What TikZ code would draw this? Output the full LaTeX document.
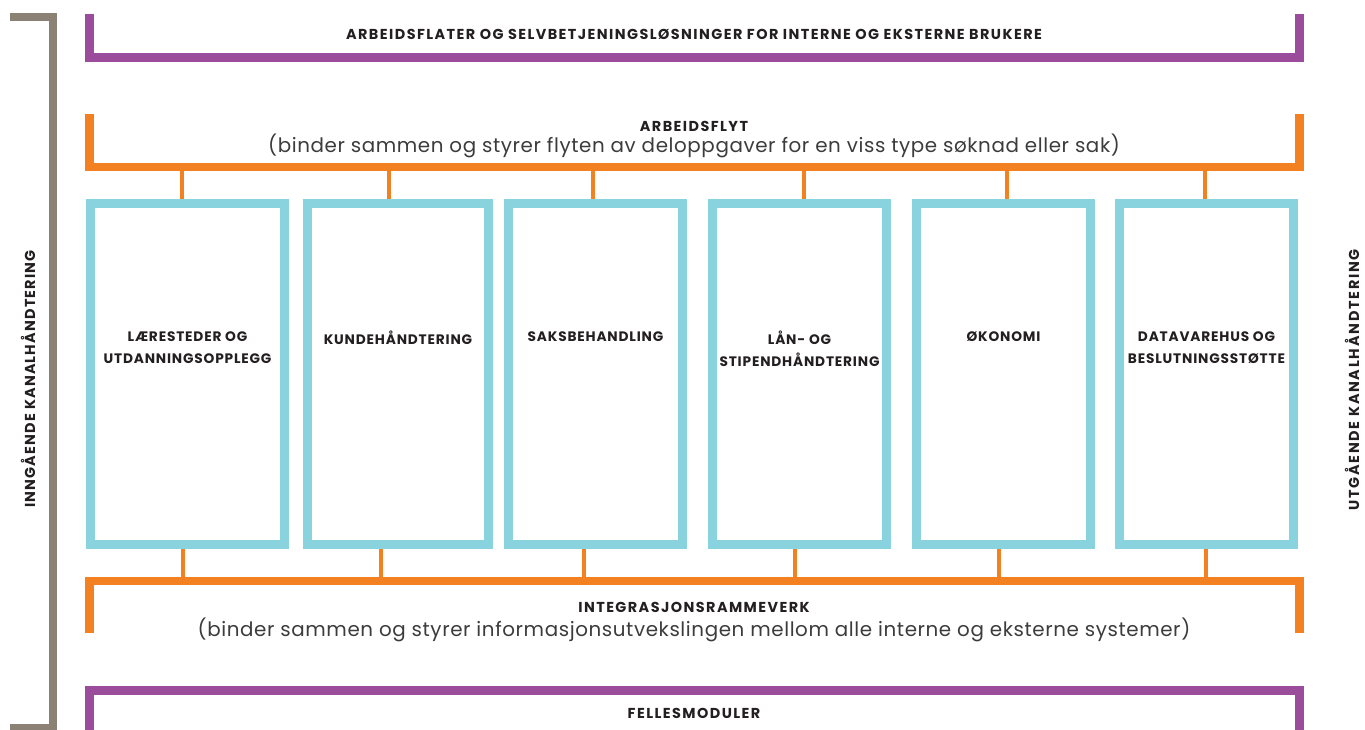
\documentclass[tikz,border=0pt]{standalone}
\usepackage{fontspec}
\setmainfont{Poppins}
\definecolor{purp}{RGB}{155,77,155}
\definecolor{orng}{RGB}{243,129,33}
\definecolor{cyanb}{RGB}{136,211,222}
\definecolor{grayb}{RGB}{140,129,117}
\definecolor{txt}{RGB}{35,31,32}
\definecolor{subt}{RGB}{60,60,60}
\tikzset{
  bracketP/.style={draw=purp,line width=6.75pt,line join=miter},
  bracketO/.style={draw=orng,line width=6.4pt,line join=miter},
  bracketG/.style={draw=grayb,line width=6pt,line join=miter},
  conn/.style={draw=orng,line width=2.3pt},
  cbox/.style={draw=cyanb,line width=6.4pt,inner sep=0pt,minimum height={341.5*0.75pt}},
  caps/.style={font=\bfseries\fontsize{10.8pt}{12pt}\selectfont\addfontfeatures{LetterSpace=10},text=txt,inner sep=0pt},
  lbl/.style={font=\bfseries\fontsize{10.3pt}{16.5pt}\selectfont\addfontfeatures{LetterSpace=6},text=txt,align=center,inner sep=0pt},
  subtitle/.style={font=\fontsize{14.9pt}{16pt}\selectfont\addfontfeatures{LetterSpace=3},text=subt,inner sep=0pt},
  side/.style={font=\bfseries\fontsize{10.8pt}{12pt}\selectfont\addfontfeatures{LetterSpace=8},text=txt,inner sep=0pt,rotate=90},
}
\begin{document}
\begin{tikzpicture}[x=0.75pt,y=-0.75pt]
\useasboundingbox (0,0) rectangle (1365,729);
% gray bracket
\draw[bracketG] (10,17) -- (53,17) -- (53,728) -- (10,728);
% purple top bracket
\draw[bracketP] (89.5,14) -- (89.5,57.5) -- (1299.5,57.5) -- (1299.5,14);
\node[caps] (t0) at (694,34) {ARBEIDSFLATER OG SELVBETJENINGSLØSNINGER FOR INTERNE OG EKSTERNE BRUKERE};
% orange top bracket
\draw[bracketO] (89.5,114) -- (89.5,167) -- (1299.5,167) -- (1299.5,114);
\node[caps] (t1) at (694,126) {ARBEIDSFLYT};
\node[subtitle] (s1) at (694,146) {(binder sammen og styrer flyten av deloppgaver for en viss type søknad eller sak)};
% orange bottom bracket
\draw[bracketO] (89.5,633) -- (89.5,581) -- (1299.5,581) -- (1299.5,633);
\node[caps] (t2) at (694,607) {INTEGRASJONSRAMMEVERK};
\node[subtitle] (s2) at (694,630) {(binder sammen og styrer informasjonsutvekslingen mellom alle interne og eksterne systemer)};
% purple bottom bracket
\draw[bracketP] (89.5,730) -- (89.5,690) -- (1299.5,690) -- (1299.5,730);
\node[caps] (t3) at (694,713) {FELLESMODULER};
% side labels
\node[side] (l) at (28,379) {INNGÅENDE KANALHÅNDTERING};
\node[side,font=\bfseries\fontsize{10.8pt}{12pt}\selectfont\addfontfeatures{LetterSpace=12}] (r) at (1352,380) {UTGÅENDE KANALHÅNDTERING};
% boxes
\node[cbox,minimum width={194.5*0.75pt}] (b1) at (187.5,374) {};
\node[cbox,minimum width={181.5*0.75pt}] (b2) at (398,374) {};
\node[cbox,minimum width={174.5*0.75pt}] (b3) at (595.5,374) {};
\node[cbox,minimum width={174.5*0.75pt}] (b4) at (799.5,374) {};
\node[cbox,minimum width={174.5*0.75pt}] (b5) at (1003.5,374) {};
\node[cbox,minimum width={174.5*0.75pt}] (b6) at (1206.5,374) {};
% labels
\node[lbl,anchor=north] (n1) at (b1.center |- 0,331) {LÆRESTEDER OG\\UTDANNINGSOPPLEGG};
\node[lbl,anchor=north] (n2) at (b2.center |- 0,331) {KUNDEHÅNDTERING};
\node[lbl,anchor=north] (n3) at (b3.center |- 0,331) {SAKSBEHANDLING};
\node[lbl,anchor=north] (n4) at (b4.center |- 0,331) {LÅN- OG\\STIPENDHÅNDTERING};
\node[lbl,anchor=north] (n5) at (b5.center |- 0,331) {ØKONOMI};
\node[lbl,anchor=north] (n6) at (b6.center |- 0,331) {DATAVAREHUS OG\\BESLUTNINGSSTØTTE};
% top connectors
\foreach \b/\x in {b1/182,b2/389,b3/593,b4/804,b5/1007,b6/1205}{
  \coordinate (top\b) at (\x,170);
  \draw[conn] (top\b) -- (top\b |- \b.north);
}
% bottom connectors
\foreach \b/\x in {b1/183,b2/381,b3/584,b4/795,b5/999,b6/1206}{
  \coordinate (bot\b) at (\x,578);
  \draw[conn] (bot\b) -- (bot\b |- \b.south);
}
\end{tikzpicture}
\end{document}
